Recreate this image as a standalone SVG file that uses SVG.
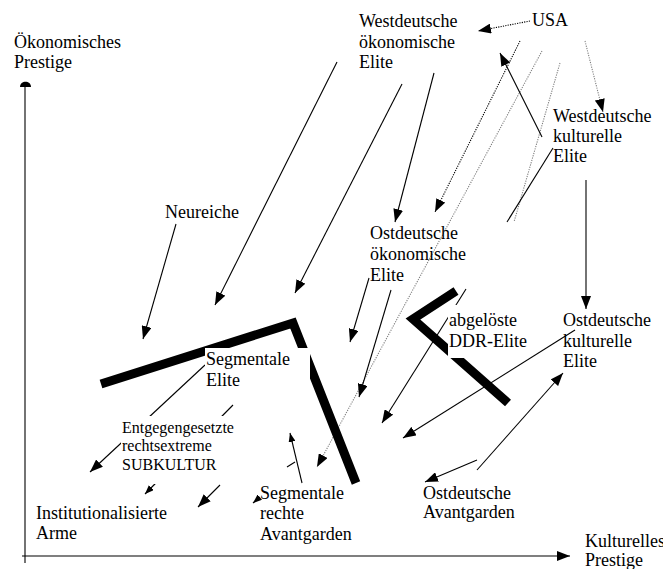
<svg xmlns="http://www.w3.org/2000/svg" width="663" height="569" viewBox="0 0 663 569">
<style>
text{font-family:"Liberation Serif","Times New Roman",serif;font-size:18px;fill:#000}
.sm{font-size:16px}
.ln{stroke:#000;stroke-width:1.1;fill:none}
.dk{stroke:#000;stroke-width:1.1;stroke-dasharray:1.2 1.2;fill:none}
.gy{stroke:#808080;stroke-width:1.1;stroke-dasharray:1.2 1.2;fill:none}
.band{stroke:#000;stroke-width:9;fill:none;stroke-linejoin:miter;stroke-linecap:butt}
.box{fill:#fff;stroke:none}
</style>
<defs>
<marker id="ah" viewBox="0 0 13 10" refX="13" refY="5" markerWidth="13" markerHeight="10" markerUnits="userSpaceOnUse" orient="auto"><path d="M0,0 L13,5 L0,10 Z" fill="#000"/></marker>
<marker id="as" viewBox="0 0 9 7" refX="9" refY="3.5" markerWidth="9" markerHeight="7" markerUnits="userSpaceOnUse" orient="auto"><path d="M0,0 L9,3.5 L0,7 Z" fill="#000"/></marker>
</defs>
<g id="axes">
<line class="ln" x1="25" y1="86" x2="25" y2="563"/>
<path d="M20,87 C20,80 31,80 31,87 Z" fill="#000"/>
<line class="ln" x1="22" y1="556" x2="570" y2="556" marker-end="url(#ah)"/>
</g>
<g id="connectors">
<line class="dk" x1="530" y1="21" x2="478" y2="31" marker-end="url(#ah)"/>
<line class="dk" x1="520" y1="41" x2="435" y2="212" marker-end="url(#ah)"/>
<line class="gy" x1="542" y1="51" x2="317" y2="467" marker-end="url(#ah)"/>
<line class="gy" x1="560" y1="63" x2="514" y2="222"/>
<line class="gy" x1="585" y1="41" x2="603" y2="112" marker-end="url(#ah)"/>
<line class="ln" x1="542" y1="137" x2="500" y2="53" marker-end="url(#ah)"/>
<line class="ln" x1="553" y1="148" x2="507" y2="222"/>
<line class="ln" x1="586" y1="180" x2="586" y2="309" marker-end="url(#ah)"/>
<line class="ln" x1="434" y1="73" x2="395" y2="222" marker-end="url(#ah)"/>
<line class="ln" x1="337" y1="62" x2="215" y2="305" marker-end="url(#ah)"/>
<line class="ln" x1="402" y1="84" x2="295" y2="293" marker-end="url(#ah)"/>
<line class="ln" x1="176" y1="224" x2="143" y2="339" marker-end="url(#ah)"/>
<line class="ln" x1="369" y1="278" x2="350" y2="342" marker-end="url(#ah)"/>
<line class="ln" x1="391" y1="290" x2="359" y2="397" marker-end="url(#ah)"/>
<line class="ln" x1="466" y1="289" x2="382" y2="423" marker-end="url(#ah)"/>
<line class="ln" x1="575" y1="330" x2="403" y2="438" marker-end="url(#ah)"/>
<line class="ln" x1="477" y1="470" x2="563" y2="373" marker-end="url(#ah)"/>
<line class="ln" x1="477" y1="460" x2="425" y2="482" marker-end="url(#ah)"/>
<line class="ln" x1="205" y1="365" x2="90" y2="472" marker-end="url(#ah)"/>
<line class="ln" x1="233" y1="405" x2="145" y2="494" marker-end="url(#as)"/>
<line class="ln" x1="220" y1="485" x2="198" y2="507" marker-end="url(#ah)"/>
<line class="ln" x1="302" y1="483" x2="290" y2="433" marker-end="url(#as)"/>
<line class="ln" x1="287" y1="467" x2="295" y2="462"/>
<line class="ln" x1="260" y1="497" x2="253" y2="503" marker-end="url(#as)"/>
</g>
<g id="bands">
<polyline class="band" points="101,384 293,323 356,483"/>
<polyline class="band" points="456,291 413,319 508,403"/>
</g>
<g id="oekonomisches-prestige"><text x="14" y="48">Ökonomisches</text><text x="14" y="68">Prestige</text></g>
<g id="kulturelles-prestige"><text x="585" y="547">Kulturelles</text><text x="585" y="566">Prestige</text></g>
<g id="usa"><text x="532" y="26">USA</text></g>
<g id="westdeutsche-oekonomische-elite"><text x="359" y="27">Westdeutsche</text><text x="359" y="48">ökonomische</text><text x="359" y="68">Elite</text></g>
<g id="westdeutsche-kulturelle-elite"><text x="553" y="122">Westdeutsche</text><text x="553" y="142">kulturelle</text><text x="553" y="162">Elite</text></g>
<g id="neureiche"><text x="165" y="218">Neureiche</text></g>
<g id="ostdeutsche-oekonomische-elite"><text x="370" y="239">Ostdeutsche</text><text x="370" y="260">ökonomische</text><text x="370" y="281">Elite</text></g>
<g id="abgeloeste-ddr-elite"><rect class="box" x="448" y="305" width="80" height="53"/><text x="449" y="326">abgelöste</text><text x="449" y="347">DDR-Elite</text></g>
<g id="ostdeutsche-kulturelle-elite"><text x="563" y="326">Ostdeutsche</text><text x="563" y="347">kulturelle</text><text x="563" y="367">Elite</text></g>
<g id="segmentale-elite"><rect class="box" x="205" y="348" width="105" height="44"/><text x="206" y="365">Segmentale</text><text x="206" y="386">Elite</text></g>
<g id="subkultur"><rect class="box" x="121" y="416" width="120" height="68"/><text class="sm" x="122" y="433">Entgegengesetzte</text><text class="sm" x="122" y="451">rechtsextreme</text><text class="sm" x="122" y="470">SUBKULTUR</text></g>
<g id="institutionalisierte-arme"><text x="36" y="519">Institutionalisierte</text><text x="36" y="539">Arme</text></g>
<g id="segmentale-rechte-avantgarden"><text x="260" y="499">Segmentale</text><text x="260" y="519">rechte</text><text x="260" y="540">Avantgarden</text></g>
<g id="ostdeutsche-avantgarden"><text x="423" y="499">Ostdeutsche</text><text x="423" y="518">Avantgarden</text></g>
</svg>
